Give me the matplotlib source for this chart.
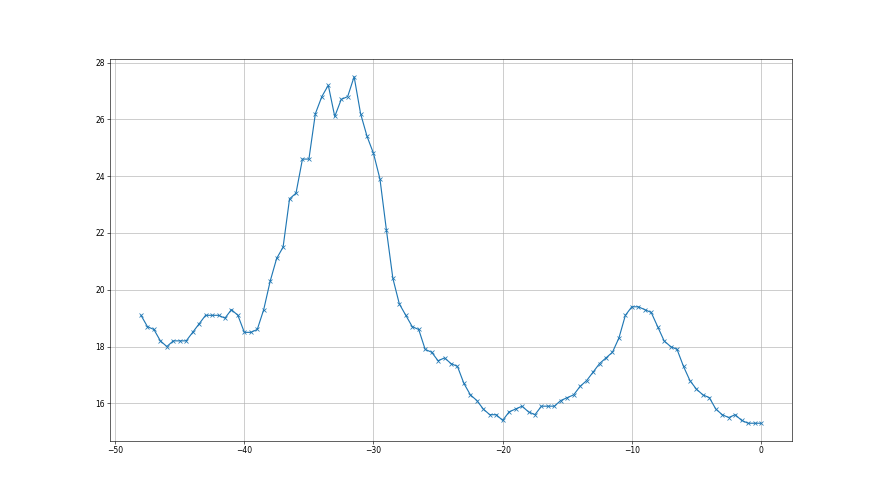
import numpy as np
import matplotlib
matplotlib.use("Agg")
import matplotlib.pyplot as plt

x_start = -48.0
x_step = 0.5
values = [
    19.1, 18.7, 18.6, 18.2, 18.0, 18.2, 18.2, 18.2, 18.5, 18.8,
    19.1, 19.1, 19.1, 19.0, 19.3, 19.1, 18.5, 18.5, 18.6, 19.3,
    20.3, 21.1, 21.5, 23.2, 23.4, 24.6, 24.6, 26.2, 26.8, 27.2,
    26.1, 26.7, 26.8, 27.5, 26.2, 25.4, 24.8, 23.9, 22.1, 20.4,
    19.5, 19.1, 18.7, 18.6, 17.9, 17.8, 17.5, 17.6, 17.4, 17.3,
    16.7, 16.3, 16.1, 15.8, 15.6, 15.6, 15.4, 15.7, 15.8, 15.9,
    15.7, 15.6, 15.9, 15.9, 15.9, 16.1, 16.2, 16.3, 16.6, 16.8,
    17.1, 17.4, 17.6, 17.8, 18.3, 19.1, 19.4, 19.4, 19.3, 19.2,
    18.7, 18.2, 18.0, 17.9, 17.3, 16.8, 16.5, 16.3, 16.2, 15.8,
    15.6, 15.5, 15.6, 15.4, 15.3, 15.3, 15.3,
]
x = x_start + x_step * np.arange(len(values))

fig, ax = plt.subplots(figsize=(16, 9), dpi=55)
ax.plot(x, values, marker='x', color='C0')
ax.grid(True)
fig.savefig("out.png", dpi=55)
